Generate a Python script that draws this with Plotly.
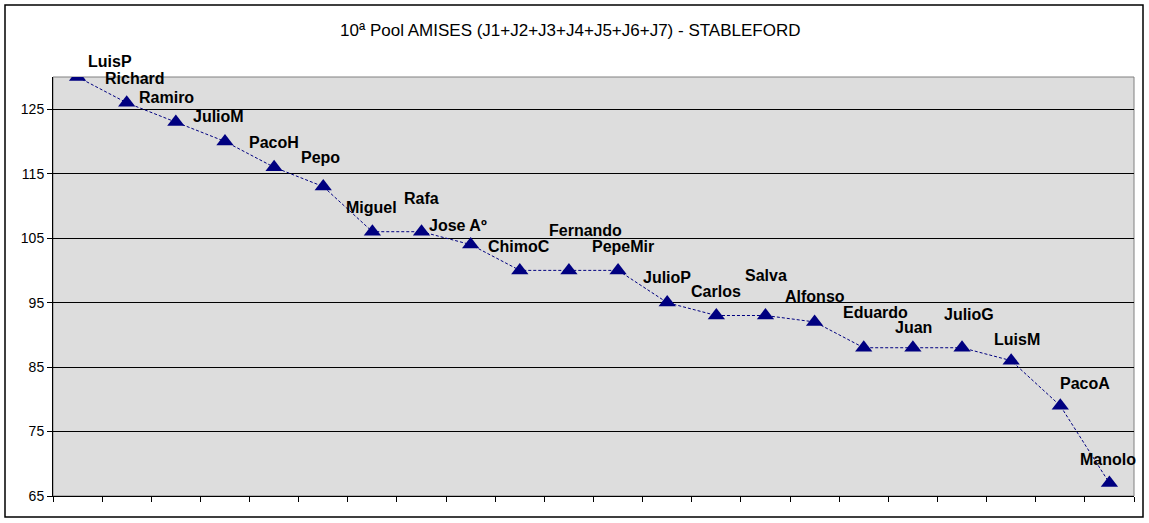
import plotly.graph_objects as go

players = ["LuisP", "Richard", "Ramiro", "JulioM", "PacoH", "Pepo", "Miguel", "Rafa",
           "Jose Aº", "ChimoC", "Fernando", "PepeMir", "JulioP", "Carlos", "Salva",
           "Alfonso", "Eduardo", "Juan", "JulioG", "LuisM", "PacoA", "Manolo"]
scores = [130, 126, 123, 120, 116, 113, 106, 106, 104, 100, 100, 100, 95, 93, 93,
          92, 88, 88, 88, 86, 79, 67]
y_ticks = [65, 75, 85, 95, 105, 115, 125]

# label offsets in pixels (dx right, dy up) relative to each point
label_dx = [32, 8, -9, -6, 0, -3, -1, 0, -13, -1, 17, 5, 0, 0, 1, 0, 12, 1, 7, 6, 25, -1]
label_dy = [16, 24, 25, 25, 25, 29, 24, 33, 19, 24, 40, 24, 25, 24, 40, 25, 35, 20, 33, 21, 22, 24]

W, H = 1149, 523
L, R, T, B = 53, 15, 77, 27
pw, ph = W - L - R, H - T - B

xs = list(range(len(players)))

fig = go.Figure()
fig.add_trace(go.Scatter(
    x=xs, y=scores, mode="lines+markers",
    line=dict(color="#000080", width=1, dash="3px,2px"),
    marker=dict(symbol="triangle-up", size=15, color="#000080"),
    hoverinfo="text", text=players, showlegend=False,
))

for i, (name, v) in enumerate(zip(players, scores)):
    fig.add_annotation(
        x=i, y=v, xref="x", yref="y", text="<b>" + name + "</b>",
        showarrow=False, xshift=label_dx[i], yshift=label_dy[i],
        font=dict(family="Liberation Sans, Arial", size=16, color="black"),
    )

fig.add_annotation(
    x=(570 - L) / pw, y=1 + (T - 30) / ph, xref="paper", yref="paper",
    text="10ª Pool AMISES (J1+J2+J3+J4+J5+J6+J7) - STABLEFORD",
    showarrow=False, xanchor="center", yanchor="middle",
    font=dict(family="Liberation Sans, Arial", size=17, color="black"),
)

# outer chart border
fig.add_shape(type="rect", xref="paper", yref="paper",
              x0=(5 - L) / pw, x1=(1143 - L) / pw,
              y0=(H - B - 517) / ph, y1=(H - B - 5) / ph,
              line=dict(color="black", width=1.5), layer="below")
# plot area border (gray)
fig.add_shape(type="rect", xref="paper", yref="paper", x0=0, x1=1, y0=0, y1=1,
              line=dict(color="#808080", width=1), layer="below")

fig.update_layout(
    width=W, height=H,
    margin=dict(l=L, r=R, t=T, b=B, autoexpand=False),
    paper_bgcolor="white", plot_bgcolor="#DDDDDD",
    font=dict(family="Liberation Sans, Arial", color="black"),
)
fig.update_xaxes(
    range=[-0.5, len(players) - 0.5], tickmode="array",
    tickvals=[i - 0.5 for i in range(len(players) + 1)], ticktext=[""] * (len(players) + 1),
    ticks="outside", ticklen=5, tickcolor="black", tickwidth=1,
    showgrid=False, zeroline=False, showline=True, linecolor="black", linewidth=1,
)
fig.update_yaxes(
    range=[65, 130], tickmode="array", tickvals=y_ticks,
    ticks="outside", ticklen=5, tickcolor="black", tickwidth=1,
    tickfont=dict(size=14, family="Liberation Sans, Arial"),
    showgrid=True, gridcolor="black", gridwidth=1, zeroline=False,
    showline=True, linecolor="black", linewidth=1,
)

fig.write_html("out.html", config={"displayModeBar": False},
               post_script="document.body.style.margin='0px';document.body.style.overflow='hidden';")
